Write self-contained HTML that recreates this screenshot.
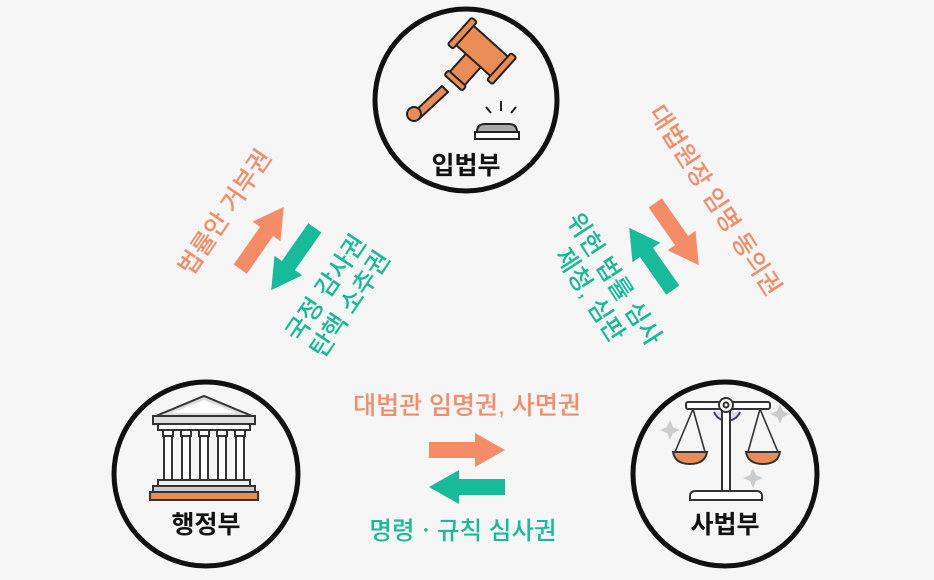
<!DOCTYPE html>
<html><head><meta charset="utf-8"><style>
html,body{margin:0;padding:0;background:#f6f6f6;}
svg{display:block;}
text{font-family:"Liberation Sans","Noto Sans CJK KR",sans-serif;font-weight:500;}
</style></head><body>
<svg width="934" height="580" viewBox="0 0 934 580" xmlns="http://www.w3.org/2000/svg">
<defs>
<path id="arr" d="M-38,-8 L8,-8 L8,-17 L38,0 L8,17 L8,8 L-38,8 Z"/>
</defs>
<rect width="934" height="580" fill="#f6f6f6"/>
<circle cx="466" cy="100" r="91" fill="#f6f6f6" stroke="#111" stroke-width="5"/>
<circle cx="206" cy="474" r="92" fill="#f6f6f6" stroke="#111" stroke-width="5"/>
<circle cx="725" cy="474" r="92" fill="#f6f6f6" stroke="#111" stroke-width="5"/>

<!-- gavel -->
<g stroke="#222" stroke-width="2" fill="#e98c55" stroke-linejoin="round">
  <path d="M413,113 L442,86 L448,92 L419,119 Z"/>
  <circle cx="414" cy="114" r="7"/>
  <g transform="translate(472,62) rotate(42)">
    <rect x="-10" y="-4" width="20" height="30" rx="2"/>
    <rect x="-12" y="22" width="24" height="6" rx="2"/>
    <rect x="-26" y="-28" width="52" height="26" rx="2"/>
    <rect x="-30" y="-33" width="7" height="36" rx="2"/>
    <rect x="23" y="-33" width="7" height="36" rx="2"/>
  </g>
</g>
<g stroke="#222" stroke-width="2">
  <path d="M477,132 Q477,124 485,124 L509,124 Q517,124 517,132 Z" fill="#aaa"/>
  <rect x="475" y="132" width="44" height="7" fill="#fff"/>
  <line x1="501" y1="101" x2="501" y2="111"/>
  <line x1="486" y1="107" x2="491" y2="113"/>
  <line x1="516" y1="107" x2="511" y2="113"/>
</g>
<text x="466" y="174" text-anchor="middle" font-size="25" style="font-weight:bold" fill="#111">입법부</text>

<!-- building -->
<g stroke="#333" stroke-width="2" fill="#fff">
  <path d="M156,416 L204,396 L252,416 Z" fill="#ddd"/>
  <path d="M172,413 L204,400 L236,413 Z" fill="#fff" stroke="none"/>
  <rect x="153" y="416" width="102" height="8" fill="#ddd"/>
  <rect x="158" y="424" width="92" height="6" fill="#fff"/>
  <g fill="#fff">
    <rect x="163" y="430" width="10" height="6"/><rect x="164" y="436" width="8" height="44"/>
    <rect x="181" y="430" width="10" height="6"/><rect x="182" y="436" width="8" height="44"/>
    <rect x="199" y="430" width="10" height="6"/><rect x="200" y="436" width="8" height="44"/>
    <rect x="217" y="430" width="10" height="6"/><rect x="218" y="436" width="8" height="44"/>
    <rect x="235" y="430" width="10" height="6"/><rect x="236" y="436" width="8" height="44"/>
  </g>
  <rect x="158" y="480" width="92" height="6" fill="#eee"/>
  <rect x="153" y="486" width="102" height="6" fill="#ccc"/>
  <rect x="150" y="492" width="108" height="8" fill="#e98c55"/>
</g>
<text x="206" y="533" text-anchor="middle" font-size="25" style="font-weight:bold" fill="#111">행정부</text>

<!-- scales -->
<g stroke="#333" stroke-width="2" fill="#fff">
  <path d="M714,412 A14,14 0 0 0 740,412" fill="#dde" stroke="#446"/>
  <rect x="686" y="402" width="84" height="7" rx="2"/>
  <rect x="722" y="409" width="8" height="82"/>
  <circle cx="726" cy="405" r="7"/>
  <circle cx="726" cy="405" r="2.5"/>
  <path d="M690,496 Q690,491 696,491 L756,491 Q762,491 762,496 L762,500 L690,500 Z"/>
  <path d="M693,409 L675,452 M693,409 L705,452 M760,409 L748,452 M760,409 L778,452" fill="none" stroke-width="1.6"/>
  <path d="M673,452 L707,452 Q705,464 690,464 Q675,464 673,452 Z" fill="#e98c55"/>
  <path d="M746,452 L780,452 Q778,464 763,464 Q748,464 746,452 Z" fill="#e98c55"/>
</g>
<g fill="#ccc">
  <path d="M670,420 L673,427 L680,430 L673,433 L670,440 L667,433 L660,430 L667,427 Z"/>
  <path d="M780,404 L783,411 L790,414 L783,417 L780,424 L777,417 L770,414 L777,411 Z"/>
  <path d="M753,468 L756,475 L763,478 L756,481 L753,488 L750,481 L743,478 L750,475 Z"/>
</g>
<text x="725" y="533" text-anchor="middle" font-size="25" style="font-weight:bold" fill="#111">사법부</text>

<!-- bottom horizontal -->
<text x="467" y="414" text-anchor="middle" font-size="25" fill="#f58c68">대법관 임명권, 사면권</text>
<use href="#arr" transform="translate(467,450)" fill="#f58c68"/>
<use href="#arr" transform="translate(467,487) rotate(180)" fill="#17bb99"/>
<text x="463" y="539" text-anchor="middle" font-size="24.5" fill="#17bb99">명령ㆍ규칙 심사권</text>

<!-- left diagonal -->
<text transform="translate(232,217) rotate(-56)" text-anchor="middle" font-size="25" fill="#f58c68">법률안 거부권</text>
<use href="#arr" transform="translate(262,238) rotate(-55)" fill="#f58c68"/>
<use href="#arr" transform="translate(293,259) rotate(125)" fill="#17bb99"/>
<g transform="translate(338,296) rotate(-56)" text-anchor="middle" font-size="25" fill="#17bb99">
  <text x="0" y="-6">국정 감사권</text>
  <text x="0" y="23">탄핵 소추권</text>
</g>

<!-- right diagonal -->
<text transform="translate(708,205) rotate(57)" text-anchor="middle" font-size="25" fill="#f58c68">대법원장 임명 동의권</text>
<use href="#arr" transform="translate(677,234) rotate(55)" fill="#f58c68"/>
<use href="#arr" transform="translate(651,259) rotate(235)" fill="#17bb99"/>
<g transform="translate(602,287) rotate(57)" text-anchor="middle" font-size="25" fill="#17bb99">
  <text x="0" y="-6">위헌 법률 심사</text>
  <text x="0" y="23">제청, 심판</text>
</g>
</svg>
</body></html>
